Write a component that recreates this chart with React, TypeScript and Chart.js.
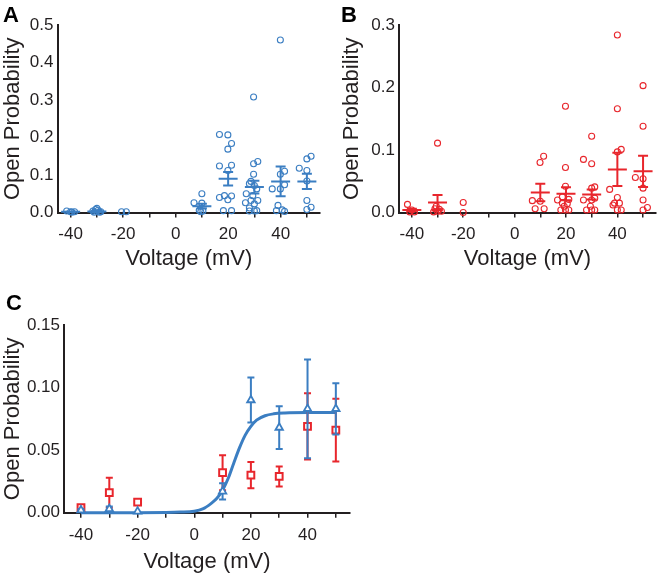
import React, { useEffect, useRef } from 'react';
import { Chart, registerables } from 'chart.js';

Chart.register(...registerables);

const BLUE = '#3b7ec2';
const RED = '#e8262c';
const INK = '#231f20';
const FONT = '"Liberation Sans", Arial, Helvetica, sans-serif';

// Shared axis values
const voltages = [-40, -30, -20, 10, 20, 30, 40, 50];
const xTicks = [-40, -30, -20, -10, 0, 10, 20, 30, 40, 50];
const xLabelled = [-40, -20, 0, 20, 40];
const aYTicks = [0, 0.1, 0.2, 0.3, 0.4, 0.5];
const bYTicks = [0, 0.1, 0.2, 0.3];
const cYTicks = [0, 0.05, 0.1, 0.15];

// Panel A (blue) individual recordings: jittered voltage and open probability
const aPointV = [
  -41.5, -40, -38.5, -39.5,
  -31.5, -30.5, -30, -29.5, -28.5, -31, -29,
  -20.6, -18.8,
  10, 7, 10, 9, 10.4, 9.6,
  16.7, 19.9, 21.3, 19.9, 16.7, 21.3, 19.9, 16.7, 18.6, 21.3, 19.9, 18.2, 21.3,
  29.7, 31.3, 29.7, 29.7, 28.7, 28.1, 30, 30.9, 26.9, 29.4, 28.7, 31.3, 26.6, 30, 28.1, 30.9, 28.1, 30,
  39.9, 39.9, 41.5, 36.8, 39.9, 41.5, 39, 38.4, 40.6, 41.5,
  50, 51.6, 47.1, 50, 50, 50, 50, 51.6,
];
const aPointPo = [
  0.004, 0.002, 0.002, 0.001,
  0.004, 0.008, 0.011, 0.006, 0.002, 0.001, 0.001,
  0.002, 0.002,
  0.050, 0.026, 0.025, 0.006, 0.004, 0.002,
  0.208, 0.207, 0.184, 0.169, 0.124, 0.126, 0.112, 0.040, 0.045, 0.044, 0.034, 0.005, 0.005,
  0.308, 0.136, 0.130, 0.102, 0.083, 0.077, 0.072, 0.063, 0.050, 0.045, 0.032, 0.032, 0.026, 0.023, 0.012, 0.005, 0.004, 0.004,
  0.460, 0.102, 0.110, 0.063, 0.063, 0.074, 0.019, 0.005, 0.007, 0.003,
  0.143, 0.150, 0.118, 0.112, 0.084, 0.032, 0.008, 0.014,
];
const aMean = [0.002, 0.003, 0.001, 0.017, 0.090, 0.068, 0.083, 0.083];
const aSem = [0.001, 0.002, null, 0.0065, 0.018, 0.017, 0.0395, 0.0205];

// Panel B (red) individual recordings
const bPointV = [
  -41.7, -40, -39, -40.8,
  -30, -30.5, -31, -29.3, -28.5, -30, -31.5,
  -20, -20,
  11.3, 9.9, 6.9, 10, 8, 11.5,
  19.8, 19.8, 19.8, 16.7, 18.6, 21.1, 18.6, 20.5, 19.3, 18, 19.8, 21.1,
  30, 26.8, 30, 31.2, 30, 26.8, 30, 31.2, 29.5, 28, 30, 31.2,
  40, 40, 41.5, 40, 37, 40, 38.9, 40.8, 38.3, 40, 41.5,
  50, 50, 47, 50, 50, 50, 50, 51.7,
];
const bPointPo = [
  0.013, 0.004, 0.001, 0.001,
  0.111, 0.010, 0.006, 0.005, 0.002, 0.002, 0.001,
  0.016, 0.0,
  0.090, 0.080, 0.019, 0.018, 0.006, 0.006,
  0.170, 0.072, 0.042, 0.020, 0.025, 0.021, 0.015, 0.014, 0.010, 0.004, 0.004, 0.004,
  0.122, 0.085, 0.078, 0.041, 0.039, 0.020, 0.020, 0.023, 0.010, 0.004, 0.004, 0.004,
  0.284, 0.166, 0.101, 0.097, 0.037, 0.024, 0.015, 0.015, 0.012, 0.004, 0.004,
  0.203, 0.138, 0.056, 0.054, 0.039, 0.020, 0.004, 0.008,
];
const bMean = [0.004, 0.016, 0.0085, 0.032, 0.030, 0.029, 0.069, 0.066];
const bSem = [0.002, 0.012, null, 0.014, 0.0105, 0.008, 0.0265, 0.025];

// Panel C fitted curve
const fitV = [-40, -20, -10, -5, 0, 3, 6, 8, 10, 12, 14, 16, 18, 20, 22, 25, 28, 32, 40, 50];
const fitPo = [0, 0, 0.0002, 0.0005, 0.0012, 0.003, 0.0075, 0.0115, 0.018, 0.0275, 0.040, 0.052, 0.062, 0.069, 0.074, 0.0775, 0.079, 0.0797, 0.080, 0.080];

function drawSem(chart: any, index: number, when: string) {
  const ds = chart.data.datasets[index];
  const eb = ds && ds.semBars;
  if (!eb || eb.when !== when) return;
  const xs = chart.scales.x;
  const ys = chart.scales.y;
  const ctx = chart.ctx;
  ctx.save();
  ctx.strokeStyle = eb.color;
  ctx.lineWidth = eb.lineWidth;
  ctx.lineCap = 'butt';
  eb.x.forEach((v: number, i: number) => {
    const m = eb.mean[i];
    const s = eb.sem[i];
    if (s == null) return;
    const px = xs.getPixelForValue(v);
    const top = ys.getPixelForValue(m + s);
    const bot = ys.getPixelForValue(Math.max(0, m - s));
    const mid = ys.getPixelForValue(m);
    ctx.beginPath();
    ctx.moveTo(px, top);
    ctx.lineTo(px, bot);
    ctx.moveTo(px - eb.cap, top);
    ctx.lineTo(px + eb.cap, top);
    ctx.moveTo(px - eb.cap, bot);
    ctx.lineTo(px + eb.cap, bot);
    if (eb.meanHalf) {
      ctx.moveTo(px - eb.meanHalf, mid);
      ctx.lineTo(px + eb.meanHalf, mid);
    }
    ctx.stroke();
  });
  ctx.restore();
}

const semPlugin = {
  id: 'semBars',
  beforeDatasetDraw(chart: any, args: any) {
    drawSem(chart, args.index, 'before');
  },
  afterDatasetDraw(chart: any, args: any) {
    drawSem(chart, args.index, 'after');
  },
};

function makeScales(o: {
  xMin: number; xMax: number; yMax: number; yTicks: number[]; decimals: number;
  yWidth: number; xHeight: number; xTitlePad: number; yTitlePad: number;
}) {
  return {
    x: {
      type: 'linear',
      min: o.xMin,
      max: o.xMax,
      afterBuildTicks: (s: any) => {
        s.ticks = xTicks.map((v) => ({ value: v }));
      },
      afterFit: (s: any) => {
        s.height = o.xHeight;
      },
      grid: { display: true, drawOnChartArea: false, drawTicks: true, tickLength: 5, color: INK, lineWidth: 1.5 },
      border: { display: true, color: INK, width: 2 },
      ticks: {
        color: INK,
        font: { family: FONT, size: 17 },
        padding: 7,
        maxRotation: 0,
        autoSkip: false,
        callback: (v: any) => (xLabelled.includes(v) ? String(v) : ''),
      },
      title: {
        display: true,
        text: 'Voltage (mV)',
        color: INK,
        font: { family: FONT, size: 22, lineHeight: 1.2 },
        padding: { top: 0, bottom: o.xTitlePad },
      },
    },
    y: {
      type: 'linear',
      min: 0,
      max: o.yMax,
      afterBuildTicks: (s: any) => {
        s.ticks = o.yTicks.map((v) => ({ value: v }));
      },
      afterFit: (s: any) => {
        s.width = o.yWidth;
      },
      grid: { display: false, drawTicks: false },
      border: { display: true, color: INK, width: 2 },
      ticks: {
        color: INK,
        font: { family: FONT, size: 17 },
        padding: 4,
        callback: (v: any) => Number(v).toFixed(o.decimals),
      },
      title: {
        display: true,
        text: 'Open Probability',
        color: INK,
        font: { family: FONT, size: 22, lineHeight: 1.2 },
        padding: { top: o.yTitlePad, bottom: 0 },
      },
    },
  };
}

function pts(xs: number[], ys: number[]) {
  return xs.map((x, i) => ({ x, y: ys[i] }));
}

function scatterPanel(
  pv: number[], pp: number[], mean: number[], sem: (number | null)[], color: string, scales: any, padding: any
) {
  return {
    type: 'scatter',
    data: {
      datasets: [
        {
          data: pts(pv, pp),
          pointStyle: 'circle',
          pointRadius: 3,
          borderWidth: 1.1,
          borderColor: color,
          backgroundColor: 'rgba(0,0,0,0)',
          clip: false,
          semBars: { when: 'after', x: voltages, mean, sem, color, lineWidth: 2, cap: 5, meanHalf: 9.5 },
        },
      ],
    },
    options: {
      responsive: false,
      animation: false,
      devicePixelRatio: 1,
      events: [],
      layout: { padding },
      plugins: { legend: { display: false }, tooltip: { enabled: false } },
      scales,
    },
    plugins: [semPlugin],
  };
}

const letterStyle = (left: number, top: number): React.CSSProperties => ({
  position: 'absolute',
  left,
  top,
  font: `bold 22px ${FONT}`,
  lineHeight: '22px',
  color: '#000',
});

export default function App() {
  const aRef = useRef<HTMLCanvasElement>(null);
  const bRef = useRef<HTMLCanvasElement>(null);
  const cRef = useRef<HTMLCanvasElement>(null);

  useEffect(() => {
    const charts: Chart[] = [];

    const aScales = makeScales({
      xMin: -45, xMax: 55, yMax: 0.5, yTicks: aYTicks, decimals: 1,
      yWidth: 57.5, xHeight: 67.5, xTitlePad: 8, yTitlePad: 0,
    });
    charts.push(new Chart(aRef.current as any, scatterPanel(aPointV, aPointPo, aMean, aSem, BLUE, aScales,
      { left: 0, top: 25, right: 10, bottom: 0 }) as any));

    const bScales = makeScales({
      xMin: -45, xMax: 55, yMax: 0.3, yTicks: bYTicks, decimals: 1,
      yWidth: 69, xHeight: 67.5, xTitlePad: 8, yTitlePad: 9,
    });
    charts.push(new Chart(bRef.current as any, scatterPanel(bPointV, bPointPo, bMean, bSem, RED, bScales,
      { left: 0, top: 25, right: 0, bottom: 0 }) as any));

    const cScales = makeScales({
      xMin: -46, xMax: 55, yMax: 0.15, yTicks: cYTicks, decimals: 2,
      yWidth: 64, xHeight: 63.3, xTitlePad: 1, yTitlePad: 0,
    });
    charts.push(new Chart(cRef.current as any, {
      type: 'scatter',
      data: {
        datasets: [
          {
            data: pts(fitV, fitPo),
            showLine: true,
            cubicInterpolationMode: 'monotone',
            borderColor: BLUE,
            borderWidth: 3,
            pointRadius: 0,
            clip: false,
            order: 4,
          },
          {
            data: pts(voltages, bMean),
            pointStyle: 'rect',
            pointRadius: 4.8,
            borderWidth: 2,
            borderColor: RED,
            backgroundColor: '#ffffff',
            clip: false,
            order: 3,
            semBars: { when: 'before', x: voltages, mean: bMean, sem: bSem, color: RED, lineWidth: 2, cap: 3.5, meanHalf: 0 },
          },
          {
            data: pts(voltages, aMean),
            pointStyle: 'triangle',
            pointRadius: 4.3,
            borderWidth: 1.8,
            borderColor: BLUE,
            backgroundColor: '#ffffff',
            clip: false,
            order: 2,
            semBars: { when: 'before', x: voltages, mean: aMean, sem: aSem, color: BLUE, lineWidth: 2, cap: 3.5, meanHalf: 0 },
          },
        ],
      },
      options: {
        responsive: false,
        animation: false,
        devicePixelRatio: 1,
        events: [],
        layout: { padding: { left: 0, top: 35, right: 10, bottom: 0 } },
        plugins: { legend: { display: false }, tooltip: { enabled: false } },
        scales: cScales,
      },
      plugins: [semPlugin],
    } as any));

    return () => charts.forEach((c) => c.destroy());
  }, []);

  return (
    <div style={{ position: 'fixed', left: 0, top: 0, width: 661, height: 576, background: '#fff', overflow: 'hidden' }}>
      <canvas ref={aRef} width={330} height={280} style={{ position: 'absolute', left: 0, top: 0, width: 330, height: 280 }} />
      <canvas ref={bRef} width={331} height={280} style={{ position: 'absolute', left: 330, top: 0, width: 331, height: 280 }} />
      <canvas ref={cRef} width={360} height={286} style={{ position: 'absolute', left: 0, top: 290, width: 360, height: 286 }} />
      <div style={letterStyle(3, 4)}>A</div>
      <div style={letterStyle(341, 4)}>B</div>
      <div style={letterStyle(6, 292)}>C</div>
    </div>
  );
}
